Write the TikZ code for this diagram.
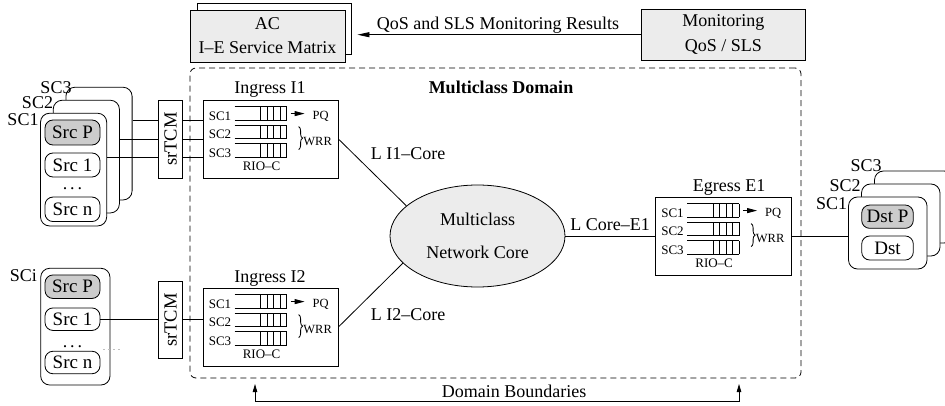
\documentclass[tikz,border=0pt]{standalone}
\usepackage{fontspec}
\setmainfont{Liberation Serif}
\usetikzlibrary{arrows.meta,shapes.geometric,decorations.pathreplacing}
\tikzset{
  plainbox/.style={draw, rectangle, inner sep=0pt},
  grpbox/.style={draw, rectangle, rounded corners=9pt, inner sep=0pt, fill=white},
  srcbox/.style={draw, rectangle, rounded corners=8pt, inner sep=0pt, minimum width=55pt, fill=white, font=\fontsize{19}{22}\selectfont},
  stxt/.style={font=\fontsize{12.5}{14}\selectfont, inner sep=0pt},
  mtxt/.style={font=\fontsize{18}{22}\selectfont, inner sep=0pt},
  fifo/.pic={
    \draw (0,0) -- (52,0);
    \draw (0,-13.5) -- (52,-13.5);
    \foreach \k in {0,...,4} { \draw (26+\k*6.5,0) -- (26+\k*6.5,-13.5); }
  },
  port/.pic={
    \node[stxt, font=\fontsize{13}{14}\selectfont, anchor=base east] (-a) at (29,20.5) {SC1};
    \node[stxt, font=\fontsize{13}{14}\selectfont, anchor=base east] (-b) at (29,39) {SC2};
    \node[stxt, font=\fontsize{13}{14}\selectfont, anchor=base east] (-c) at (29,57.5) {SC3};
    \pic at (32,20.5) {fifo};
    \pic at (32,39) {fifo};
    \pic at (32,57.5) {fifo};
    \draw[-{Triangle[length=10pt,width=5pt]}] (88,14) -- (102,14);
    \node[stxt, anchor=base] (-pq) at (118,19.5) {PQ};
    \draw[decorate, decoration={brace, amplitude=4pt}] (96,27) -- (96,50);
    \node[stxt] (-wrr) at (115,41.5) {WRR};
    \node[stxt, font=\fontsize{13}{14}\selectfont] (-rio) at (59,66.5) {RIO–C};
  }
}
\begin{document}
\begin{tikzpicture}[x=1pt, y=-1pt, line width=0.8pt, font=\fontsize{18}{22}\selectfont]
\useasboundingbox (0,0) rectangle (945,406);

% domain boundary
\node[draw, dashed, dash pattern=on 6pt off 4pt, rounded corners=6pt, inner sep=0pt,
      minimum width=611pt, minimum height=310pt] (domain) at (495.5,223) {};
\node[font=\bfseries\fontsize{18}{22}\selectfont, anchor=base] (mdlab) at (501,94) {Multiclass Domain};

% AC and monitoring
\node[plainbox, fill=white, minimum width=154pt, minimum height=51pt] (acb) at (274,28.5) {};
\node[plainbox, fill=gray!15, minimum width=155pt, minimum height=52pt, align=center,
      font=\fontsize{18}{24}\selectfont] (acf) at (267.5,36) {AC\\I–E Service Matrix};
\node[plainbox, fill=gray!15, minimum width=163.3pt, minimum height=50.7pt, align=center,
      font=\fontsize{18}{25}\selectfont] (mon) at (723.3,34.7) {Monitoring\\QoS / SLS};
\draw[-{Triangle[length=12pt,width=5pt]}, shorten >=6pt] (mon.west) -- (acb.east |- mon.west);
\node[mtxt, anchor=base] (qoslab) at (498,30) {QoS and SLS Monitoring Results};

% upper source group
\node[grpbox, minimum width=66.2pt, minimum height=112.7pt] (lsc3) at (99,143.6) {};
\node[grpbox, minimum width=66.2pt, minimum height=112.7pt] (lsc2) at (86.3,156.6) {};
\node[grpbox, minimum width=66.2pt, minimum height=112.7pt] (lsc1) at (73.6,169.6) {};
\node[anchor=base, inner sep=0pt] (lsc1lab) at (23,126) {SC1};
\node[anchor=base, inner sep=0pt] (lsc2lab) at (37.5,109) {SC2};
\node[anchor=base, inner sep=0pt] (lsc3lab) at (56,94) {SC3};
\node[srcbox, fill=gray!40, minimum height=25pt] (srcp) at (72.5,132.5) {Src P};
\node[srcbox, minimum height=24pt] (src1) at (72.5,165) {Src 1};
\node[anchor=base, inner sep=0pt] (dots1) at (72.5,190) {.\,.\,.};
\node[srcbox, minimum height=24.5pt] (srcn) at (72.5,209.3) {Src n};

% srTCM 1 and ingress I1
\node[plainbox, minimum width=24.4pt, minimum height=78pt] (tcm1) at (170.5,139) {};
\node[rotate=90, inner sep=0pt, font=\fontsize{18.5}{22}\selectfont] (tcm1t) at (tcm1.center) {srTCM};
\node[plainbox, minimum width=135pt, minimum height=78pt] (in1) at (270.5,139) {};
\pic (in1p) at (in1.north west) {port};
\node[mtxt, anchor=base] (in1lab) at (270,94) {Ingress I1};

\coordinate (ya) at (0,120.5);
\coordinate (yb) at (0,139);
\coordinate (yc) at (0,157.5);
\draw (lsc3.east |- ya) -- (tcm1.west |- ya);
\draw (lsc2.east |- yb) -- (tcm1.west |- yb);
\draw (lsc1.east |- yc) -- (tcm1.west |- yc);
\draw (tcm1.east |- ya) -- (in1.west |- ya);
\draw (tcm1.east |- yb) -- (in1.west |- yb);
\draw (tcm1.east |- yc) -- (in1.west |- yc);

% lower source group
\node[grpbox, minimum width=69.3pt, minimum height=116.7pt] (lsci) at (75.35,326.65) {};
\node[anchor=base, inner sep=0pt] (lscilab) at (23.3,281.7) {SCi};
\node[srcbox, fill=gray!40, minimum height=23.5pt] (srcp2) at (72.5,286.7) {Src P};
\node[srcbox, minimum height=22.5pt] (src12) at (72.5,319.2) {Src 1};
\node[anchor=base, inner sep=0pt] (dots2) at (72.5,347) {.\,.\,.};
\node[srcbox, minimum height=22.5pt] (srcn2) at (72.5,362.5) {Src n};
\draw[gray!50, dash pattern=on 2pt off 3pt] ([xshift=3pt]srcn2.north east) ++(0,-1) -- ++(19,0);

% srTCM 2 and ingress I2
\node[plainbox, minimum width=24.4pt, minimum height=76.6pt] (tcm2) at (170.5,320) {};
\node[rotate=90, inner sep=0pt, font=\fontsize{18.5}{22}\selectfont] (tcm2t) at (tcm2.center) {srTCM};
\node[plainbox, minimum width=135pt, minimum height=78pt] (in2) at (270.5,327) {};
\pic (in2p) at (in2.north west) {port};
\node[mtxt, anchor=base] (in2lab) at (270,282.7) {Ingress I2};
\draw (src12.east) -- (tcm2.west |- src12.east);
\draw (tcm2.east |- src12.east) -- (in2.west |- src12.east);

% core
\node[ellipse, draw, fill=gray!15, minimum width=175pt, minimum height=102pt, inner sep=0pt,
      align=center, font=\fontsize{18}{33}\selectfont] (core) at (477.5,236) {Multiclass\\Network Core};
\draw (in1.east) -- (core.157);
\draw (in2.east) -- (core.200);
\node[mtxt, anchor=base] (l1lab) at (408,159.3) {L I1–Core};
\node[mtxt, anchor=base] (l2lab) at (408,320) {L I2–Core};

% egress
\node[plainbox, minimum width=135.5pt, minimum height=78pt] (eg) at (723.25,236) {};
\pic (egp) at (eg.north west) {port};
\node[mtxt, anchor=base] (eglab) at (729,191.7) {Egress E1};
\draw (core.east) -- (eg.west |- core.east);
\node[mtxt, anchor=base] (l3lab) at (610,230) {L Core–E1};

% destination group
\node[grpbox, minimum width=78.5pt, minimum height=72pt] (dsc3) at (913.75,207) {};
\node[grpbox, minimum width=78.5pt, minimum height=72pt] (dsc2) at (900.75,220) {};
\node[grpbox, minimum width=78.5pt, minimum height=72pt] (dsc1) at (887.75,233) {};
\node[anchor=base, inner sep=0pt] (dsc1lab) at (831.7,210) {SC1};
\node[anchor=base, inner sep=0pt] (dsc2lab) at (845,191.7) {SC2};
\node[anchor=base, inner sep=0pt] (dsc3lab) at (866,171.7) {SC3};
\node[srcbox, fill=gray!40, minimum width=51.6pt, minimum height=23.3pt] (dstp) at (887.5,216.7) {Dst P};
\node[srcbox, minimum width=51.6pt, minimum height=24pt] (dst) at (887.5,248) {Dst};
\draw (eg.east) -- (dsc1.west |- eg.east);

% domain boundaries marker
\coordinate (dbl) at (255,384);
\coordinate (dbr) at (739,384);
\draw[{Triangle[length=8pt,width=4.5pt]}-{Triangle[length=8pt,width=4.5pt]}] (dbl) -- ++(0,17) -| (dbr);
\node[mtxt, anchor=base] (dblab) at (514,397.5) {Domain Boundaries};
\end{tikzpicture}
\end{document}
